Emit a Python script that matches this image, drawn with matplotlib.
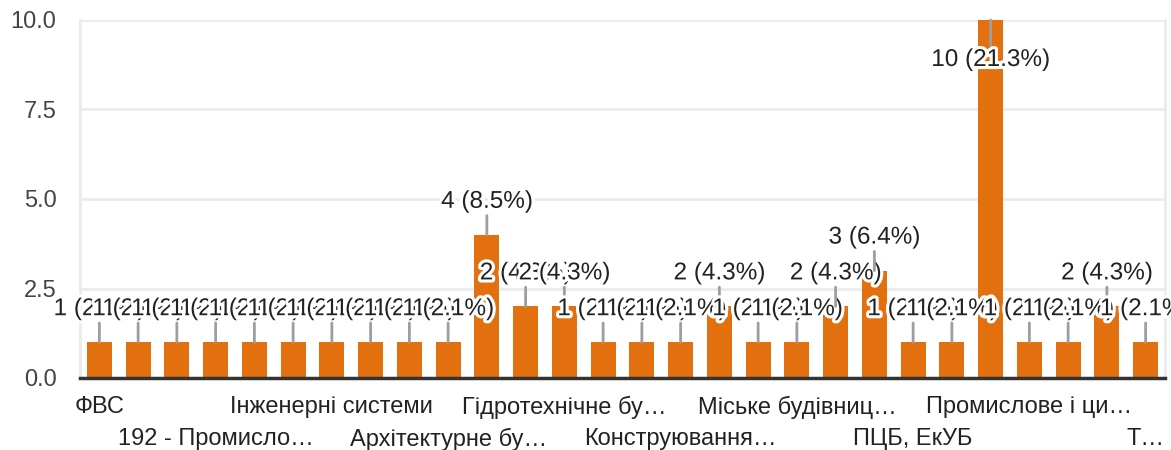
import matplotlib
matplotlib.use("Agg")
import matplotlib.pyplot as plt
import matplotlib.patheffects as pe

plt.rcParams["font.family"] = ["Liberation Sans", "DejaVu Sans"]

# counts per answer, 28 answers, total 47
values = [1, 1, 1, 1, 1, 1, 1, 1, 1, 1,
          4, 2, 2, 1, 1, 1, 2, 1, 1, 2,
          3, 1, 1, 10, 1, 1, 2, 1]
# only every third category name is shown on the axis
tick_labels = ["ФВС", "192 - Промисло…", "Інженерні системи", "Архітектурне бу…",
               "Гідротехнічне бу…", "Конструювання…", "Міське будівниц…",
               "ПЦБ, ЕкУБ", "Промислове і ци…", "Т…"]
y_ticks = [0.0, 2.5, 5.0, 7.5, 10.0]

BAR = "#e2700e"
GRID = "#ebebeb"
LEADER = "#9e9e9e"
TEXT = "#222222"
total = sum(values)

fig = plt.figure(figsize=(11.71, 4.5), dpi=100)
ax = fig.add_axes([80 / 1171, 1 - 378 / 450, 1085 / 1171, 358 / 450])

x = list(range(len(values)))
ax.bar(x, values, width=0.645, color=BAR, zorder=2)

ax.set_xlim(-0.5, len(values) - 0.5)
ax.set_ylim(0, 10)
ax.set_yticks(y_ticks)
ax.set_yticklabels([f"{v:.1f}" for v in y_ticks])
ax.grid(axis="y", color=GRID, linewidth=2, zorder=0)
ax.set_axisbelow(True)

ax.spines["top"].set_visible(False)
ax.spines["left"].set_color(GRID)
ax.spines["left"].set_linewidth(2)
ax.spines["right"].set_color(GRID)
ax.spines["right"].set_linewidth(2)
ax.spines["bottom"].set_color("#333333")
ax.spines["bottom"].set_linewidth(2.5)
ax.spines["bottom"].set_zorder(3)

ax.tick_params(axis="y", length=0, pad=17, labelsize=17, labelcolor="#444444")
ax.tick_params(axis="x", length=0, labelsize=17, labelcolor="#222222")

tick_pos = list(range(0, len(values), 3))
ax.set_xticks(tick_pos)
ax.set_xticklabels(tick_labels)
for k, tick in enumerate(ax.xaxis.get_major_ticks()):
    tick.set_pad(13 if k % 2 == 0 else 36)

# value labels with leader lines, drawn in order so later ones overlap earlier
for i, v in enumerate(values):
    txt = f"{v} ({v / total * 100:.1f}%)"
    off = -40 if v >= 10 else 33
    ax.annotate(txt, xy=(i, v), xytext=(0, off), textcoords="offset pixels",
                ha="center", va="center", fontsize=17.5, color=TEXT,
                annotation_clip=False, zorder=4 + i,
                path_effects=[pe.withStroke(linewidth=4.5, foreground="white")],
                arrowprops=dict(arrowstyle="-", color=LEADER, lw=2,
                                shrinkA=0, shrinkB=0))

fig.savefig("out.png", dpi=100)
